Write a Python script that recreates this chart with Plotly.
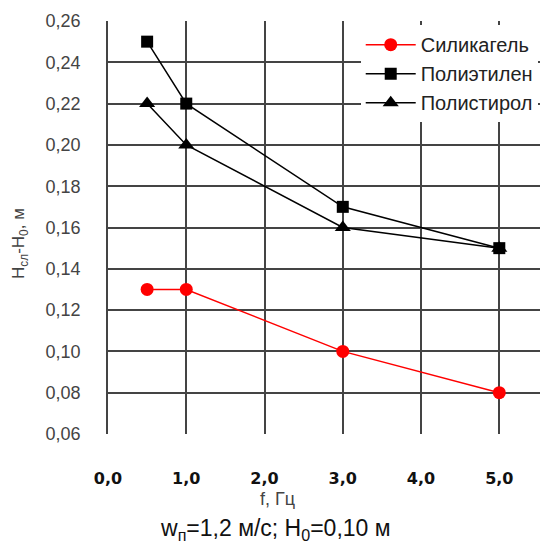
import plotly.graph_objects as go

f_vals = [0.5, 1.0, 3.0, 5.0]
silica = [0.13, 0.13, 0.10, 0.08]
polyethylene = [0.25, 0.22, 0.17, 0.15]
polystyrene = [0.22, 0.20, 0.16, 0.15]
series_names = ["Силикагель", "Полиэтилен", "Полистирол"]
x_ticks = [0, 1, 2, 3, 4, 5]
y_ticks = [0.06, 0.08, 0.10, 0.12, 0.14, 0.16, 0.18, 0.20, 0.22, 0.24, 0.26]

fig = go.Figure()
fig.add_trace(go.Scatter(x=f_vals, y=silica, name=series_names[0], mode="lines+markers",
                         line=dict(color="#ff0000", width=1.5),
                         marker=dict(symbol="circle", size=13, color="#ff0000")))
fig.add_trace(go.Scatter(x=f_vals, y=polyethylene, name=series_names[1], mode="lines+markers",
                         line=dict(color="#000000", width=1.5),
                         marker=dict(symbol="square", size=12, color="#000000")))
fig.add_trace(go.Scatter(x=f_vals, y=polystyrene, name=series_names[2], mode="lines+markers",
                         line=dict(color="#000000", width=1.5),
                         marker=dict(symbol="triangle-up", size=14, color="#000000")))

fig.update_layout(
    width=545, height=546,
    margin=dict(l=108, r=5, t=21, b=112),
    paper_bgcolor="white", plot_bgcolor="white",
    separators=", ",
    font=dict(family="Arial, Liberation Sans", color="#333333"),
    showlegend=True,
    legend=dict(x=0.585, y=0.99, xanchor="left", yanchor="top",
                bgcolor="white", borderwidth=0,
                font=dict(family="Arial, Liberation Sans", size=20, color="#222222"),
                tracegroupgap=0, itemwidth=50),
    xaxis=dict(range=[0, 5.52], tickvals=x_ticks, tickformat=".1f",
               showgrid=True, gridcolor="#444444", gridwidth=1.5,
               showline=False, zeroline=False,
               ticks="", ticklabelstandoff=33,
               tickfont=dict(family="DejaVu Sans", size=16, color="#111111", weight="bold")),
    yaxis=dict(range=[0.06, 0.26], tickvals=y_ticks, tickformat=".2f",
               showgrid=True, gridcolor="#444444", gridwidth=1.5,
               showline=True, linecolor="#444444", linewidth=1.5,
               zeroline=False, ticks="", ticklabelstandoff=22,
               tickfont=dict(family="Arial, Liberation Sans", size=18, color="#444444")),
    annotations=[
        dict(text="f, Гц", xref="paper", yref="paper",
             x=(277 - 108) / 432, y=(434 - 499) / 413,
             xanchor="center", yanchor="middle", showarrow=False,
             font=dict(family="Arial, Liberation Sans", size=18, color="#444444")),
        dict(text="H<sub>сл</sub>-H<sub>0</sub>, м", xref="paper", yref="paper",
             x=(20 - 108) / 432, y=(434 - 244) / 413, textangle=-90,
             xanchor="center", yanchor="middle", showarrow=False,
             font=dict(family="Arial, Liberation Sans", size=17, color="#444444")),
        dict(text="w<sub>п</sub>=1,2 м/с; H<sub>0</sub>=0,10 м",
             xref="paper", yref="paper", x=(275 - 108) / 432, y=(434 - 529) / 413,
             xanchor="center", yanchor="middle", showarrow=False,
             font=dict(family="Arial, Liberation Sans", size=23, color="#111111")),
    ],
)

fig.write_html("out.html")
